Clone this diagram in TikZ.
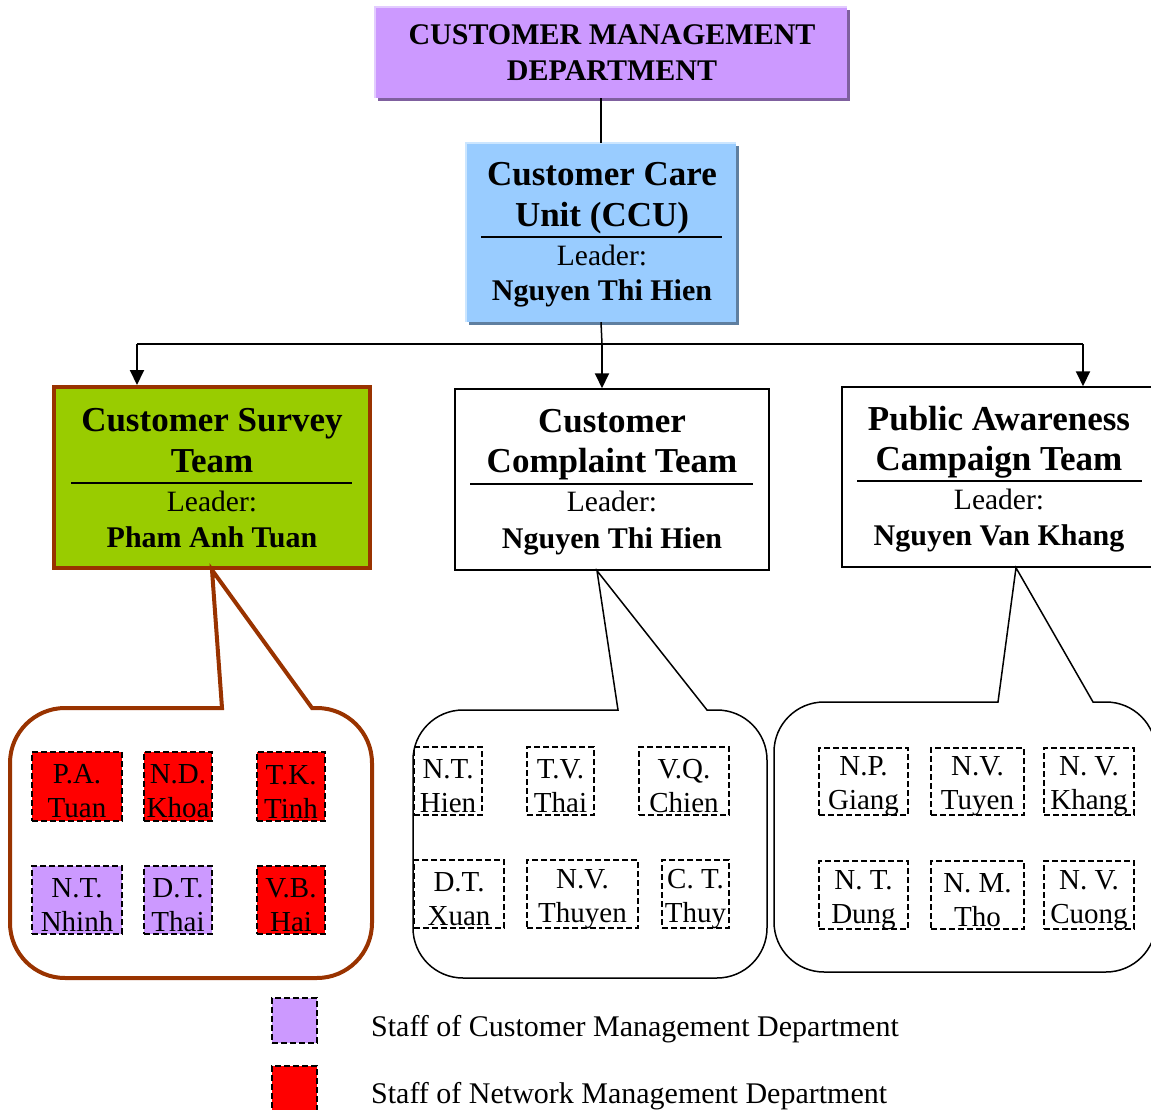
\documentclass[tikz,border=0pt]{standalone}
\usepackage{fontspec}
\setmainfont{Liberation Serif}
\usetikzlibrary{arrows.meta}

\definecolor{cmdpurple}{HTML}{CC99FF}
\definecolor{cmdshadow}{HTML}{7F609F}
\definecolor{cmdlight}{HTML}{E3CCFF}
\definecolor{ccublue}{HTML}{99CCFF}
\definecolor{ccushadow}{HTML}{5F7FA0}
\definecolor{cculight}{HTML}{CCE6FF}
\definecolor{surveygreen}{HTML}{99CC00}
\definecolor{surveybrown}{HTML}{993300}
\definecolor{netred}{HTML}{FF0000}

\begin{document}
\begin{tikzpicture}[x=1pt,y=1pt,
  headtext/.style={font=\fontsize{30}{36}\selectfont\bfseries, inner sep=0pt, anchor=base},
  titletext/.style={font=\fontsize{35}{40}\selectfont\bfseries, inner sep=0pt, anchor=base},
  leadertext/.style={font=\fontsize{29.5}{34}\selectfont, inner sep=0pt, anchor=base},
  nametext/.style={font=\fontsize{30}{34}\selectfont\bfseries, inner sep=0pt, anchor=base},
  legendtext/.style={font=\fontsize{30}{34}\selectfont, inner sep=0pt, anchor=base west},
  teambox/.style={draw, line width=1.5pt, fill=white, inner sep=0pt, minimum width=314pt, minimum height=181pt},
  staff/.style={draw, dash pattern=on 6pt off 3pt, line width=1.5pt, inner sep=0pt, minimum height=68pt},
  stafftext/.style={align=center, font=\fontsize{29}{34}\selectfont, inner sep=0pt, yshift=-5pt},
  names/.style={label={[stafftext]center:{#1}}},
  swatch/.style={draw, dash pattern=on 6pt off 3pt, line width=1.5pt, inner sep=0pt,
    minimum width=45pt, minimum height=45pt},
  rule/.style={line width=1.5pt},
  conn/.style={line width=1.5pt},
  arr/.style={line width=2pt, -{Triangle[length=15pt,width=14pt]}},
  bubble/.style={line width=1.5pt, line join=miter},
]
\useasboundingbox (0,0) rectangle (1151,-1110);

% ---- department and unit boxes with offset shadows ----
\node[fill=cmdpurple, inner sep=0pt, minimum width=472pt, minimum height=91pt,
  preaction={fill=cmdshadow, transform canvas={shift={(3pt,-3pt)}}}] (cmd) at (611,-52.5) {};
\draw[cmdlight, line width=1.5pt] (cmd.south west) -- (cmd.north west) -- (cmd.north east);
\node[headtext] (cmdA) at (612,-45) {CUSTOMER MANAGEMENT};
\node[headtext] (cmdB) at (612,-81) {DEPARTMENT};

\node[fill=ccublue, inner sep=0pt, minimum width=270pt, minimum height=179pt,
  preaction={fill=ccushadow, transform canvas={shift={(3pt,-3pt)}}}] (ccu) at (601,-232.5) {};
\draw[cculight, line width=1.5pt] (ccu.south west) -- (ccu.north west) -- (ccu.north east);
\node[titletext] (ccuA) at (602,-186) {Customer Care};
\node[titletext] (ccuB) at (602,-226) {Unit (CCU)};
\draw[rule] (481,-237) -- (722,-237);
\node[leadertext] (ccuC) at (602,-265) {Leader:};
\node[nametext] (ccuD) at (602,-300) {Nguyen Thi Hien};

% ---- team boxes ----
\node[teambox, fill=surveygreen, draw=surveybrown, line width=4pt, minimum width=316pt] (survey) at (212,-477.5) {};
\node[titletext] (svA) at (212,-431) {Customer Survey};
\node[titletext] (svB) at (212,-472) {Team};
\draw[rule] (71,-483) -- (352,-483);
\node[leadertext] (svC) at (212,-511) {Leader:};
\node[nametext] (svD) at (212,-547) {Pham Anh Tuan};

\node[teambox] (complaint) at (612,-479.5) {};
\node[titletext] (cpA) at (612,-432) {Customer};
\node[titletext] (cpB) at (612,-472) {Complaint Team};
\draw[rule] (470,-484) -- (753,-484);
\node[leadertext] (cpC) at (612,-511) {Leader:};
\node[nametext] (cpD) at (612,-548) {Nguyen Thi Hien};

\node[teambox, minimum height=180pt] (public) at (999,-477) {};
\node[titletext] (pbA) at (999,-430) {Public Awareness};
\node[titletext] (pbB) at (999,-470) {Campaign Team};
\draw[rule] (857,-481) -- (1142,-481);
\node[leadertext] (pbC) at (999,-509) {Leader:};
\node[nametext] (pbD) at (999,-545) {Nguyen Van Khang};

% ---- connectors ----
\coordinate (busL) at (137,-344);
\coordinate (busM) at (602,-344);
\coordinate (busR) at (1083,-344);
\draw[conn] (ccu.north |- cmd.south) -- (ccu.north);
\draw[conn] (ccu.south) -- (busM);
\draw[conn] (busL) -- (busR);
\draw[arr] (busL) -- (busL |- survey.north);
\draw[arr] (busM) -- (busM |- complaint.north);
\draw[arr] (busR) -- (busR |- public.north);

% ---- speech bubbles holding the staff ----
\coordinate (tipL) at (survey.south);
\coordinate (tipM) at ([xshift=-15pt]complaint.south);
\coordinate (tipR) at ([xshift=17pt]public.south);

\draw[bubble, draw=surveybrown, line width=4pt] (222,-708) -- (tipL) -- (312,-708) -- (317,-708)
  arc[start angle=90, end angle=0, radius=55] -- (372,-923)
  arc[start angle=0, end angle=-90, radius=55] -- (65,-978)
  arc[start angle=-90, end angle=-180, radius=55] -- (10,-763)
  arc[start angle=180, end angle=90, radius=55] -- cycle;

\draw[bubble] (618,-710) -- (tipM) -- (707,-710) -- (717,-710)
  arc[start angle=90, end angle=0, radius=50] -- (767,-928)
  arc[start angle=0, end angle=-90, radius=50] -- (463,-978)
  arc[start angle=-90, end angle=-180, radius=50] -- (413,-760)
  arc[start angle=180, end angle=90, radius=50] -- cycle;

\draw[bubble] (998,-702) -- (tipR) -- (1093,-702) -- (1106,-702)
  arc[start angle=90, end angle=0, radius=50] -- (1156,-922)
  arc[start angle=0, end angle=-90, radius=50] -- (824,-972)
  arc[start angle=-90, end angle=-180, radius=50] -- (774,-752)
  arc[start angle=180, end angle=90, radius=50] -- cycle;

% ---- survey team staff ----
\node[staff, fill=netred, minimum width=90pt, minimum height=69pt, names={P.A.\\Tuan}] (s1) at (77,-786.5) {};
\node[staff, fill=netred, minimum width=68pt, minimum height=69pt, names={N.D.\\Khoa}] (s2) at (178,-786.5) {};
\node[staff, fill=netred, minimum width=68pt, minimum height=69pt, names={T.K.\\Tinh}] (s3) at (291,-786.5) {};
\node[staff, fill=cmdpurple, minimum width=90pt, names={N.T.\\Nhinh}] (s4) at (77,-900) {};
\node[staff, fill=cmdpurple, minimum width=68pt, names={D.T.\\Thai}] (s5) at (178,-900) {};
\node[staff, fill=netred, minimum width=68pt, names={V.B.\\Hai}] (s6) at (291,-900) {};

% ---- complaint team staff ----
\node[staff, minimum width=68pt, names={N.T.\\Hien}] (c1) at (448,-781) {};
\node[staff, minimum width=67pt, names={T.V.\\Thai}] (c2) at (560.5,-781) {};
\node[staff, minimum width=90pt, names={V.Q.\\Chien}] (c3) at (684,-781) {};
\node[staff, minimum width=90pt, names={D.T.\\Xuan}] (c4) at (459,-894) {};
\node[staff, minimum width=111pt, names={N.V.\\Thuyen}] (c5) at (582.5,-894) {};
\node[staff, minimum width=67pt, names={C. T.\\Thuy}] (c6) at (695.5,-894) {};

% ---- awareness team staff ----
\node[staff, minimum width=89pt, minimum height=67pt, names={N.P.\\Giang}] (p1) at (863.5,-781.5) {};
\node[staff, minimum width=93pt, minimum height=67pt, names={N.V.\\Tuyen}] (p2) at (977.5,-781.5) {};
\node[staff, minimum width=90pt, minimum height=67pt, names={N. V.\\Khang}] (p3) at (1089,-781.5) {};
\node[staff, minimum width=89pt, names={N. T.\\Dung}] (p4) at (863.5,-895) {};
\node[staff, minimum width=93pt, names={N. M.\\Tho}] (p5) at (977.5,-895) {};
\node[staff, minimum width=90pt, names={N. V.\\Cuong}] (p6) at (1089,-895) {};

% ---- legend ----
\node[swatch, fill=cmdpurple] (legA) at (294.5,-1020.5) {};
\node[legendtext] (legAt) at (371,-1036) {Staff of Customer Management Department};
\node[swatch, fill=netred] (legB) at (294.5,-1088.5) {};
\node[legendtext] (legBt) at (371,-1103) {Staff of Network Management Department};
\end{tikzpicture}
\end{document}
